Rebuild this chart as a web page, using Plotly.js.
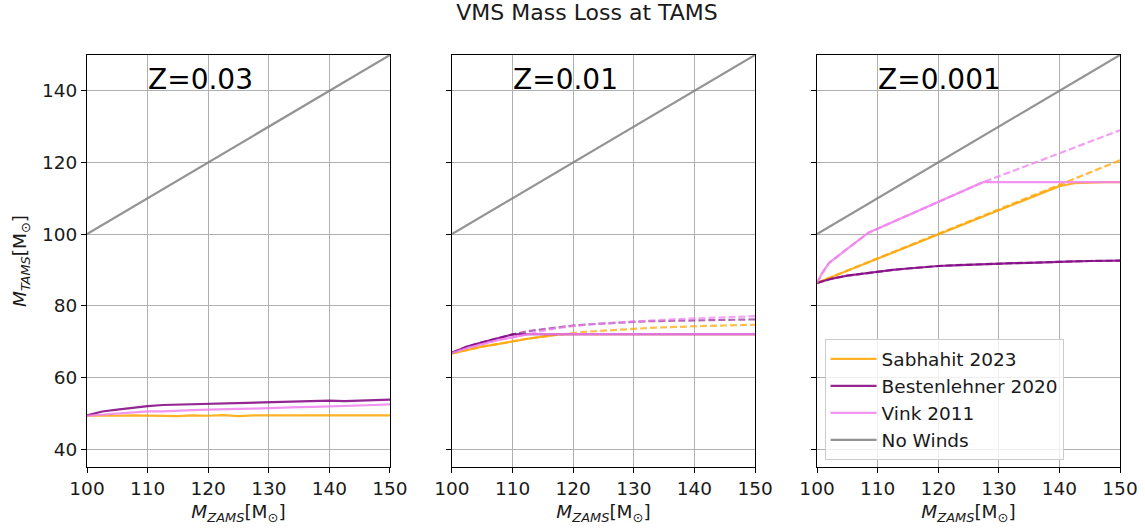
<!DOCTYPE html>
<html>
<head>
<meta charset="utf-8">
<script src="https://cdn.plot.ly/plotly-3.0.1.min.js"></script>
<style>html,body{margin:0;padding:0;background:#fff;}#chart{width:1145px;height:531px;}</style>
</head>
<body>
<div id="chart"></div>
<script>
// ---------- DATA ----------
const mZams = [100,102.5,105,107.5,110,112.5,115,117.5,120,122.5,125,127.5,130,132.5,135,137.5,140,142.5,145,147.5,150];
const noWindsX = [100,150];
const noWindsY = [100,150];

// Z = 0.03
const z003_bestenlehner = [49.4,50.5,51.0,51.6,52.0,52.3,52.4,52.7,52.7,52.9,53.0,53.0,53.2,53.3,53.2,53.4,53.5,53.4,53.6,53.7,53.8];
const z003_vink         = [49.3,49.6,50.0,50.2,50.5,50.5,50.8,50.9,51.0,51.0,51.2,51.3,51.5,51.5,51.7,51.8,51.9,51.9,52.1,52.3,52.5];
const z003_sabhahit     = [49.3,49.2,49.3,49.4,49.3,49.4,49.2,49.4,49.3,49.5,49.2,49.4,49.4,49.3,49.5,49.4,49.3,49.4,49.5,49.3,49.4];

// Z = 0.01 (dashed = uncapped, solid = capped)
const z001_bestenlehner_dash = [66.9,68.6,69.8,71.0,72.0,72.9,73.5,74.0,74.5,74.8,75.1,75.3,75.5,75.7,75.8,75.9,76.0,76.1,76.1,76.2,76.2];
const z001_bestenlehner      = [66.9,68.6,69.8,71.0,72.0,72.1,72.1,72.1,72.1,72.1,72.1,72.1,72.1,72.1,72.1,72.1,72.1,72.1,72.1,72.1,72.1];
const z001_vink_dash         = [66.8,68.2,69.3,70.4,71.2,72.2,73.0,73.8,74.4,74.8,75.1,75.4,75.6,75.9,76.1,76.3,76.5,76.7,76.8,77.0,77.1];
const z001_vink              = [66.8,68.2,69.3,70.4,71.2,72.1,72.1,72.1,72.1,72.1,72.1,72.1,72.1,72.1,72.1,72.1,72.1,72.1,72.1,72.1,72.1];
const z001_sabhahit_dash     = [66.7,67.7,68.6,69.3,70.1,70.8,71.4,72.0,72.4,72.8,73.1,73.3,73.5,73.8,74.0,74.2,74.3,74.4,74.5,74.6,74.7];
const z001_sabhahit          = [66.7,67.7,68.6,69.3,70.1,70.8,71.4,72.0,72.1,72.1,72.1,72.1,72.1,72.1,72.1,72.1,72.1,72.1,72.1,72.1,72.1];

// Z = 0.001
const z0001_bestenlehner   = [86.4,87.6,88.4,89.0,89.5,90.0,90.4,90.8,91.1,91.3,91.5,91.7,91.8,91.9,92.0,92.2,92.3,92.4,92.5,92.5,92.6];
const z0001_sabhahit_dash  = [86.4,88.1,89.8,91.5,93.2,94.9,96.6,98.3,100.0,101.7,103.4,105.1,106.8,108.5,110.2,111.9,113.6,115.3,117.0,118.8,120.6];
const z0001_sabhahit       = [86.4,88.1,89.8,91.5,93.2,94.9,96.6,98.3,100.0,101.7,103.4,105.1,106.8,108.5,110.2,111.9,113.4,114.2,114.4,114.5,114.5];
const vinkX                = [100,100.8,102,104,106,108.5,112,116,120,124,127.4,132,136,140,144,148,150];
const z0001_vink_dash      = [86.4,89.0,92.0,94.5,97.2,100.4,103.0,106.0,109.0,112.0,114.5,117.4,120.0,122.6,125.1,127.7,129.0];
const z0001_vink           = [86.4,89.0,92.0,94.5,97.2,100.4,103.0,106.0,109.0,112.0,114.5,114.5,114.5,114.5,114.5,114.5,114.5];

const zLabels = ['Z=0.03','Z=0.01','Z=0.001'];
const seriesNames = ['Sabhahit 2023','Bestenlehner 2020','Vink 2011','No Winds'];

// ---------- STYLE ----------
const C = {sab:'#FFA500', best:'#800080', vink:'#EE82EE', none:'#808080'};
const LW = 2.2;

function line(x, y, color, ax, opts) {
  opts = opts || {};
  return Object.assign({
    x: x, y: y, type: 'scatter', mode: 'lines',
    line: {color: color, width: LW, dash: opts.dash || 'solid'},
    opacity: opts.opacity || 0.85,
    xaxis: 'x' + (ax === 1 ? '' : ax), yaxis: 'y' + (ax === 1 ? '' : ax),
    showlegend: false, hoverinfo: 'skip'
  }, opts.extra || {});
}
const DASH = '7px,3px';
const traces = [];

// Panel 1
traces.push(line(noWindsX, noWindsY, C.none, 1));
traces.push(line(mZams, z003_sabhahit, C.sab, 1));
traces.push(line(mZams, z003_bestenlehner, C.best, 1));
traces.push(line(mZams, z003_vink, C.vink, 1));

// Panel 2
traces.push(line(noWindsX, noWindsY, C.none, 2));
traces.push(line(mZams, z001_sabhahit_dash, C.sab, 2, {dash: DASH, opacity: 0.7}));
traces.push(line(mZams, z001_bestenlehner_dash, C.best, 2, {dash: DASH, opacity: 0.6}));
traces.push(line(mZams, z001_vink_dash, C.vink, 2, {dash: DASH, opacity: 0.7}));
traces.push(line(mZams, z001_sabhahit, C.sab, 2));
traces.push(line(mZams, z001_bestenlehner, C.best, 2));
traces.push(line(mZams, z001_vink, C.vink, 2));

// Panel 3
traces.push(line(mZams, z0001_sabhahit_dash, C.sab, 3, {dash: DASH, opacity: 0.75}));
traces.push(line(mZams, z0001_bestenlehner, C.best, 3, {dash: DASH, opacity: 0.6}));
traces.push(line(vinkX, z0001_vink_dash, C.vink, 3, {dash: DASH, opacity: 0.75}));
traces.push(line(mZams, z0001_sabhahit, C.sab, 3, {extra: {showlegend: true, name: seriesNames[0], legendgroup: 'a'}}));
traces.push(line(mZams, z0001_bestenlehner, C.best, 3, {extra: {showlegend: true, name: seriesNames[1], legendgroup: 'b'}}));
traces.push(line(vinkX, z0001_vink, C.vink, 3, {extra: {showlegend: true, name: seriesNames[2], legendgroup: 'c'}}));
traces.push(line(noWindsX, noWindsY, C.none, 3, {extra: {showlegend: true, name: seriesNames[3], legendgroup: 'd'}}));

const FS = 18.5;
const tickFont = {family: 'DejaVu Sans', size: FS, color: '#1a1a1a'};
const xTitle = '<i>M<sub>ZAMS</sub></i>[M<sub>⊙</sub>]';
const yTitle = '<i>M<sub>TAMS</sub></i>[M<sub>⊙</sub>]';
const domains = [[0, 0.2933], [0.3533, 0.6467], [0.7067, 1]];

function xaxis(i) {
  return {
    domain: domains[i], range: [100, 150], dtick: 10, tick0: 100,
    showgrid: true, gridcolor: '#b0b0b0', gridwidth: 1,
    showline: true, linecolor: 'black', linewidth: 1, mirror: true,
    ticks: 'outside', ticklen: 5, tickcolor: 'black', zeroline: false,
    tickfont: tickFont, anchor: 'y' + (i === 0 ? '' : i + 1),
    title: {text: xTitle, font: {family: 'DejaVu Sans', size: FS, color: '#1a1a1a'}, standoff: 6}
  };
}
function yaxis(i) {
  return {
    range: [35, 150], tickvals: [40, 60, 80, 100, 120, 140],
    showgrid: true, gridcolor: '#b0b0b0', gridwidth: 1,
    showline: true, linecolor: 'black', linewidth: 1, mirror: true,
    ticks: 'outside', ticklen: 5, tickcolor: 'black', zeroline: false,
    tickfont: tickFont, showticklabels: i === 0,
    anchor: 'x' + (i === 0 ? '' : i + 1),
    title: i === 0 ? {text: yTitle, font: {family: 'DejaVu Sans', size: FS, color: '#1a1a1a'}, standoff: 10} : {text: ''}
  };
}

const annotations = zLabels.map((t, i) => ({
  text: t, x: 110, y: 140, xref: 'x' + (i === 0 ? '' : i + 1), yref: 'y' + (i === 0 ? '' : i + 1),
  xanchor: 'left', yanchor: 'bottom', showarrow: false, yshift: -7, xshift: -2,
  font: {family: 'DejaVu Sans', size: 28, color: 'black'}
}));

const layout = {
  width: 1145, height: 531,
  margin: {l: 87, r: 25, t: 55, b: 64},
  paper_bgcolor: 'white', plot_bgcolor: 'white',
  font: {family: 'DejaVu Sans', color: '#1a1a1a'},
  title: {text: 'VMS Mass Loss at TAMS', x: 0.5127, xanchor: 'center', y: 0.976, yanchor: 'middle', yref: 'container',
          font: {family: 'DejaVu Sans', size: 22, color: '#1a1a1a'}},
  xaxis: xaxis(0), xaxis2: xaxis(1), xaxis3: xaxis(2),
  yaxis: yaxis(0), yaxis2: yaxis(1), yaxis3: yaxis(2),
  annotations: annotations,
  showlegend: true,
  legend: {x: 0.714, y: 0.31, xanchor: 'left', yanchor: 'top', xref: 'paper', yref: 'paper',
           bgcolor: 'rgba(255,255,255,0.8)', bordercolor: '#cccccc', borderwidth: 1,
           font: {family: 'DejaVu Sans', size: FS, color: '#1a1a1a'},
           tracegroupgap: 7, itemwidth: 46, traceorder: 'normal'}
};

Plotly.newPlot('chart', traces, layout, {displayModeBar: false, staticPlot: true});
</script>
</body>
</html>
